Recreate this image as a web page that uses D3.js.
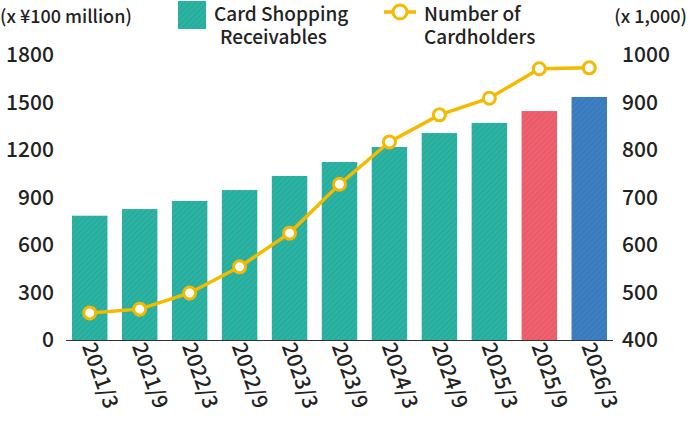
<!DOCTYPE html><html><head><meta charset="utf-8">
<script src="https://cdn.jsdelivr.net/npm/d3@7"></script>
<style>body{margin:0;background:#fff}text{font-family:"Noto Sans CJK JP","Noto Sans",sans-serif;fill:#222;font-weight:500}</style></head><body>
<svg id="c" width="690" height="422"></svg>
<script>
const categories=["2021/3","2021/9","2022/3","2022/9","2023/3","2023/9","2024/3","2024/9","2025/3","2025/9","2026/3"];
const receivables=[785,827,878,947,1036,1124,1219,1307,1371,1446,1535];
const cardholders=[457,465,499,554,625,728,817,874,909,971,973];
const leftTicks=[0,300,600,900,1200,1500,1800];
const rightTicks=[400,500,600,700,800,900,1000];
const barColors=["#2bb3a3","#2bb3a3","#2bb3a3","#2bb3a3","#2bb3a3","#2bb3a3","#2bb3a3","#2bb3a3","#2bb3a3","#f0606f","#3d7fc3"];
const svg=d3.select("#c");
const defs=svg.append("defs");
barColors.forEach((c,i)=>{const p=defs.append("pattern").attr("id","p"+i).attr("width",4).attr("height",4).attr("patternUnits","userSpaceOnUse").attr("patternTransform","rotate(45)");
p.append("rect").attr("width",4).attr("height",4).attr("fill",c);
p.append("rect").attr("width",1).attr("height",4).attr("fill","#000").attr("opacity",0.07);});
const x=d3.scaleBand().domain(categories).range([66,613]).paddingInner(0.29).paddingOuter(0.12);
const yL=d3.scaleLinear().domain([0,1800]).range([340,55]);
const yR=d3.scaleLinear().domain([400,1000]).range([340,55]);
svg.append("g").selectAll("rect").data(categories).join("rect")
 .attr("x",d=>x(d)).attr("width",x.bandwidth()).attr("y",(d,i)=>yL(receivables[i])).attr("height",(d,i)=>340-yL(receivables[i])).attr("fill",(d,i)=>`url(#p${i})`);
const la=svg.append("g").attr("transform","translate(58,0)").call(d3.axisLeft(yL).tickValues(leftTicks).tickFormat(d3.format("d")).tickSize(0).tickPadding(4));
const ra=svg.append("g").attr("transform","translate(618,0)").call(d3.axisRight(yR).tickValues(rightTicks).tickFormat(d3.format("d")).tickSize(0).tickPadding(4));
[la,ra].forEach(a=>{a.select(".domain").remove();a.selectAll("text").attr("font-size",21).style("font-family","Noto Sans CJK JP").style("font-weight",500).attr("fill","#222");});
svg.append("line").attr("x1",66).attr("x2",613).attr("y1",340.5).attr("y2",340.5).attr("stroke","#333");
const line=d3.line().x((d,i)=>x(categories[i])+x.bandwidth()/2).y(d=>yR(d));
svg.append("path").datum(cardholders).attr("d",line).attr("fill","none").attr("stroke","#f5b900").attr("stroke-width",3.5);
svg.append("g").selectAll("circle").data(cardholders).join("circle").attr("cx",(d,i)=>x(categories[i])+x.bandwidth()/2).attr("cy",d=>yR(d)).attr("r",6).attr("fill","#fff").attr("stroke","#f5b900").attr("stroke-width",3);
svg.append("g").selectAll("text").data(categories).join("text")
 .attr("transform",d=>`translate(${x(d)+x.bandwidth()/2-8},346) rotate(70)`).attr("font-size",21).text(d=>d);
svg.append("text").attr("x",0).attr("y",23).attr("font-size",18).text("(x ¥100 million)");
svg.append("text").attr("x",687).attr("y",23).attr("font-size",18).attr("text-anchor","end").text("(x 1,000)");
svg.append("rect").attr("x",178).attr("y",1).attr("width",28).attr("height",28).attr("fill","url(#p0)");
svg.append("text").attr("x",214).attr("y",21).attr("font-size",19).text("Card Shopping");
svg.append("text").attr("x",220).attr("y",44).attr("font-size",19).text("Receivables");
svg.append("line").attr("x1",384).attr("x2",416).attr("y1",12).attr("y2",12).attr("stroke","#f5b900").attr("stroke-width",3.5);
svg.append("circle").attr("cx",400).attr("cy",12).attr("r",7).attr("fill","#fff").attr("stroke","#f5b900").attr("stroke-width",3);
svg.append("text").attr("x",424).attr("y",21).attr("font-size",19).text("Number of");
svg.append("text").attr("x",424).attr("y",44).attr("font-size",19).text("Cardholders");
</script></body></html>
